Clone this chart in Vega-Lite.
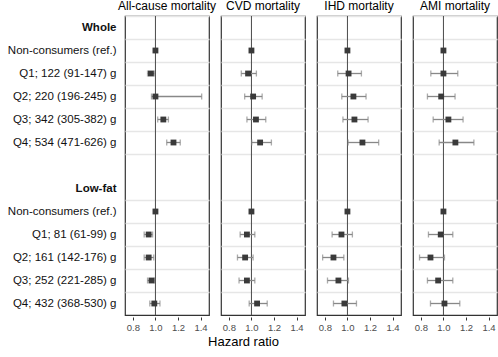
{
  "$schema": "https://vega.github.io/schema/vega-lite/v6.json",
  "padding": {"left": 7, "top": 0, "right": 5, "bottom": 5},
  "config": {
    "font": "Liberation Sans",
    "view": {"stroke": "#333333", "strokeWidth": 1.2},
    "header": {"labelFontSize": 12, "labelColor": "#000000", "labelPadding": 1, "labelFont": "Liberation Sans"},
    "axisX": {"labelOverlap": false, "labelBound": false, "labelFlush": false, "grid": false, "domain": false, "tickColor": "#333333", "tickSize": 3, "labelFontSize": 9.5, "labelColor": "#4d4d4d", "labelPadding": 2}
  },
  "title": {"text": "Hazard ratio", "orient": "bottom", "anchor": "middle", "frame": "bounds", "fontSize": 13, "fontWeight": "normal", "color": "#000000", "offset": 4, "dx": -9},
  "data": {"values": [
    {"outcome": "All-cause mortality", "label": "Non-consumers (ref.)", "hr": 1.0, "lo": null, "hi": null},
    {"outcome": "All-cause mortality", "label": "Q1; 122 (91-147) g", "hr": 0.96, "lo": 0.93, "hi": 0.99},
    {"outcome": "All-cause mortality", "label": "Q2; 220 (196-245) g", "hr": 1.0, "lo": 0.965, "hi": 1.41},
    {"outcome": "All-cause mortality", "label": "Q3; 342 (305-382) g", "hr": 1.07, "lo": 1.02, "hi": 1.115},
    {"outcome": "All-cause mortality", "label": "Q4; 534 (471-626) g", "hr": 1.16, "lo": 1.10, "hi": 1.22},
    {"outcome": "All-cause mortality", "label": " Non-consumers (ref.)", "hr": 1.0, "lo": null, "hi": null},
    {"outcome": "All-cause mortality", "label": "Q1; 81 (61-99) g", "hr": 0.94, "lo": 0.90, "hi": 0.975},
    {"outcome": "All-cause mortality", "label": "Q2; 161 (142-176) g", "hr": 0.94, "lo": 0.90, "hi": 0.985},
    {"outcome": "All-cause mortality", "label": "Q3; 252 (221-285) g", "hr": 0.965, "lo": 0.93, "hi": 0.99},
    {"outcome": "All-cause mortality", "label": "Q4; 432 (368-530) g", "hr": 0.99, "lo": 0.95, "hi": 1.04},
    {"outcome": "CVD mortality", "label": "Non-consumers (ref.)", "hr": 1.0, "lo": null, "hi": null},
    {"outcome": "CVD mortality", "label": "Q1; 122 (91-147) g", "hr": 0.97, "lo": 0.91, "hi": 1.044},
    {"outcome": "CVD mortality", "label": "Q2; 220 (196-245) g", "hr": 1.015, "lo": 0.94, "hi": 1.095},
    {"outcome": "CVD mortality", "label": "Q3; 342 (305-382) g", "hr": 1.04, "lo": 0.96, "hi": 1.127},
    {"outcome": "CVD mortality", "label": "Q4; 534 (471-626) g", "hr": 1.077, "lo": 1.003, "hi": 1.177},
    {"outcome": "CVD mortality", "label": " Non-consumers (ref.)", "hr": 1.0, "lo": null, "hi": null},
    {"outcome": "CVD mortality", "label": "Q1; 81 (61-99) g", "hr": 0.96, "lo": 0.90, "hi": 1.03},
    {"outcome": "CVD mortality", "label": "Q2; 161 (142-176) g", "hr": 0.944, "lo": 0.876, "hi": 1.015},
    {"outcome": "CVD mortality", "label": "Q3; 252 (221-285) g", "hr": 0.96, "lo": 0.89, "hi": 1.03},
    {"outcome": "CVD mortality", "label": "Q4; 432 (368-530) g", "hr": 1.05, "lo": 0.98, "hi": 1.14},
    {"outcome": "IHD mortality", "label": "Non-consumers (ref.)", "hr": 1.0, "lo": null, "hi": null},
    {"outcome": "IHD mortality", "label": "Q1; 122 (91-147) g", "hr": 1.01, "lo": 0.914, "hi": 1.124},
    {"outcome": "IHD mortality", "label": "Q2; 220 (196-245) g", "hr": 1.053, "lo": 0.95, "hi": 1.165},
    {"outcome": "IHD mortality", "label": "Q3; 342 (305-382) g", "hr": 1.062, "lo": 0.96, "hi": 1.183},
    {"outcome": "IHD mortality", "label": "Q4; 534 (471-626) g", "hr": 1.133, "lo": 1.006, "hi": 1.277},
    {"outcome": "IHD mortality", "label": " Non-consumers (ref.)", "hr": 1.0, "lo": null, "hi": null},
    {"outcome": "IHD mortality", "label": "Q1; 81 (61-99) g", "hr": 0.947, "lo": 0.864, "hi": 1.044},
    {"outcome": "IHD mortality", "label": "Q2; 161 (142-176) g", "hr": 0.876, "lo": 0.78, "hi": 0.968},
    {"outcome": "IHD mortality", "label": "Q3; 252 (221-285) g", "hr": 0.92, "lo": 0.823, "hi": 1.009},
    {"outcome": "IHD mortality", "label": "Q4; 432 (368-530) g", "hr": 0.973, "lo": 0.876, "hi": 1.08},
    {"outcome": "AMI mortality", "label": "Non-consumers (ref.)", "hr": 1.0, "lo": null, "hi": null},
    {"outcome": "AMI mortality", "label": "Q1; 122 (91-147) g", "hr": 1.0, "lo": 0.888, "hi": 1.127},
    {"outcome": "AMI mortality", "label": "Q2; 220 (196-245) g", "hr": 0.98, "lo": 0.858, "hi": 1.103},
    {"outcome": "AMI mortality", "label": "Q3; 342 (305-382) g", "hr": 1.044, "lo": 0.909, "hi": 1.174},
    {"outcome": "AMI mortality", "label": "Q4; 534 (471-626) g", "hr": 1.106, "lo": 0.962, "hi": 1.27},
    {"outcome": "AMI mortality", "label": " Non-consumers (ref.)", "hr": 1.0, "lo": null, "hi": null},
    {"outcome": "AMI mortality", "label": "Q1; 81 (61-99) g", "hr": 0.976, "lo": 0.867, "hi": 1.083},
    {"outcome": "AMI mortality", "label": "Q2; 161 (142-176) g", "hr": 0.885, "lo": 0.788, "hi": 1.009},
    {"outcome": "AMI mortality", "label": "Q3; 252 (221-285) g", "hr": 0.953, "lo": 0.858, "hi": 1.083},
    {"outcome": "AMI mortality", "label": "Q4; 432 (368-530) g", "hr": 1.009, "lo": 0.885, "hi": 1.145}
  ]},
  "facet": {
    "column": {"field": "outcome", "type": "nominal", "title": null,
      "sort": ["All-cause mortality", "CVD mortality", "IHD mortality", "AMI mortality"]}
  },
  "spacing": 10,
  "spec": {
    "width": 84,
    "height": 299,
    "encoding": {
      "y": {
        "field": "label", "type": "nominal",
        "scale": {"type": "band", "paddingInner": 0, "paddingOuter": 0,
          "domain": ["Whole", "Non-consumers (ref.)", "Q1; 122 (91-147) g", "Q2; 220 (196-245) g", "Q3; 342 (305-382) g", "Q4; 534 (471-626) g", " ", "Low-fat", " Non-consumers (ref.)", "Q1; 81 (61-99) g", "Q2; 161 (142-176) g", "Q3; 252 (221-285) g", "Q4; 432 (368-530) g"]},
        "axis": {
          "title": null, "domain": false, "ticks": false,
          "bandPosition": 0, "labelOffset": 0,
          "labelFontSize": 11.5, "labelColor": "#111111", "labelPadding": 8,
          "labelFontWeight": {"condition": {"test": "datum.value == 'Whole' || datum.value == 'Low-fat'", "value": "bold"}, "value": "normal"},
          "grid": true, "gridColor": {"condition": {"test": "datum.value == 'Low-fat'", "value": "transparent"}, "value": "#e6e6e6"}, "gridWidth": 1.5
        }
      }
    },
    "layer": [
      {
        "transform": [{"filter": "datum.label == 'Non-consumers (ref.)'"}],
        "mark": {"type": "rule", "color": "#4a4a4a", "strokeWidth": 1},
        "encoding": {"x": {"datum": 1, "type": "quantitative",
            "scale": {"domain": [0.73, 1.475], "nice": false, "zero": false},
            "axis": {"title": null, "values": [0.8, 1.0, 1.2, 1.4], "format": ".1f"}}, "y": null}
      },
      {
        "mark": {"type": "rule", "color": "#888888", "strokeWidth": 1.3},
        "encoding": {
          "x": {"field": "lo", "type": "quantitative",
            "axis": {"title": null, "values": [0.8, 1.0, 1.2, 1.4], "format": ".1f"}},
          "x2": {"field": "hi"}
        }
      },
      {
        "mark": {"type": "tick", "orient": "vertical", "size": 6, "thickness": 1.3, "color": "#888888"},
        "encoding": {"x": {"field": "lo", "type": "quantitative", "axis": {"title": null, "values": [0.8, 1.0, 1.2, 1.4], "format": ".1f"}}}
      },
      {
        "mark": {"type": "tick", "orient": "vertical", "size": 6, "thickness": 1.3, "color": "#888888"},
        "encoding": {"x": {"field": "hi", "type": "quantitative", "axis": {"title": null, "values": [0.8, 1.0, 1.2, 1.4], "format": ".1f"}}}
      },
      {
        "mark": {"type": "square", "size": 34, "filled": true, "opacity": 1, "color": "#3a3a3a"},
        "encoding": {"x": {"field": "hr", "type": "quantitative", "axis": {"title": null, "values": [0.8, 1.0, 1.2, 1.4], "format": ".1f"}}}
      }
    ]
  }
}
